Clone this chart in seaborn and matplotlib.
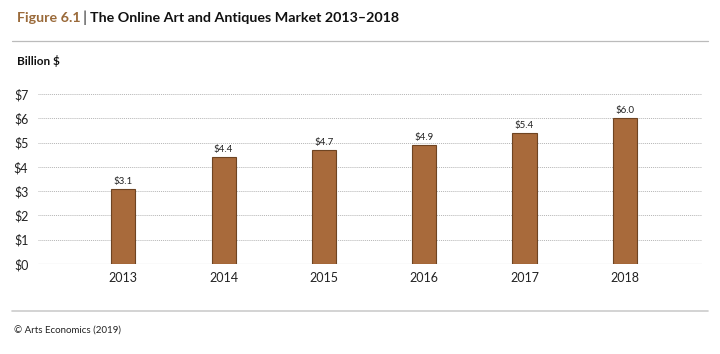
import matplotlib
matplotlib.use("Agg")
import matplotlib.pyplot as plt
import seaborn as sns
import pandas as pd

# Online art and antiques market, billion $
years = ["2013", "2014", "2015", "2016", "2017", "2018"]
values = [3.1, 4.4, 4.7, 4.9, 5.4, 6.0]
labels = ["$3.1", "$4.4", "$4.7", "$4.9", "$5.4", "$6.0"]
yticks = [0, 1, 2, 3, 4, 5, 6, 7]

sns.set_style("white")
plt.rcParams["font.family"] = ["Lato", "DejaVu Sans"]

df = pd.DataFrame({"year": years, "value": values})

fig = plt.figure(figsize=(7.2, 3.54), dpi=100)
ax = fig.add_axes([38 / 720, 1 - 264 / 354, (702 - 38) / 720, (264 - 94) / 354])

sns.barplot(data=df, x="year", y="value", color="#A86A3B", width=0.24,
            edgecolor="#6e4422", linewidth=0.8, saturation=1, ax=ax, zorder=3)

for i, (v, lab) in enumerate(zip(values, labels)):
    ax.text(i, v + 0.12, lab, ha="center", va="bottom", fontsize=7, color="#222222")

ax.set_ylim(0, 7)
ax.set_xlim(-0.85, 5.77)
ax.set_yticks(yticks)
ax.set_yticklabels([f"${t}" for t in yticks])
for t in yticks[1:]:
    ax.axhline(t, color="#b5b5b5", lw=0.7, ls=(0, (1, 1)), zorder=1)
ax.axhline(0, color="#aaaaaa", lw=0.8, zorder=2)
ax.set_xlabel("")
ax.set_ylabel("")
sns.despine(ax=ax, left=True, bottom=True)
ax.tick_params(axis="both", length=0, labelsize=9, colors="#222222")
ax.tick_params(axis="y", pad=7)
ax.tick_params(axis="x", pad=6)

# header: chain the three parts so they never overlap
t1 = fig.text(17 / 720, 1 - 18 / 354, "Figure 6.1", fontsize=10.3, fontweight="bold",
              color="#9A6A3A", va="center", ha="left")
t2 = ax.annotate("|", xy=(1, 0.5), xycoords=t1, xytext=(1.5, 0),
                 textcoords="offset points", fontsize=11.5, color="#333333",
                 va="center", ha="left", annotation_clip=False)
ax.annotate("The Online Art and Antiques Market 2013–2018", xy=(1, 0.5),
            xycoords=t2, xytext=(2, 0), textcoords="offset points",
            fontsize=10.3, fontweight="bold", color="#111111",
            va="center", ha="left", annotation_clip=False)
fig.add_artist(plt.Line2D([12 / 720, 708 / 720], [1 - 41 / 354] * 2,
                          color="#bbbbbb", lw=0.9, transform=fig.transFigure))
fig.text(17 / 720, 1 - 61 / 354, "Billion $", fontsize=8.5, fontweight="bold",
         color="#111111", va="center", ha="left")

# footer
fig.add_artist(plt.Line2D([12 / 720, 708 / 720], [1 - 311 / 354] * 2,
                          color="#cccccc", lw=1.2, transform=fig.transFigure))
fig.text(14 / 720, 1 - 331 / 354, "© Arts Economics (2019)", fontsize=7,
         color="#222222", va="center", ha="left")

fig.savefig("out.png", dpi=100)
